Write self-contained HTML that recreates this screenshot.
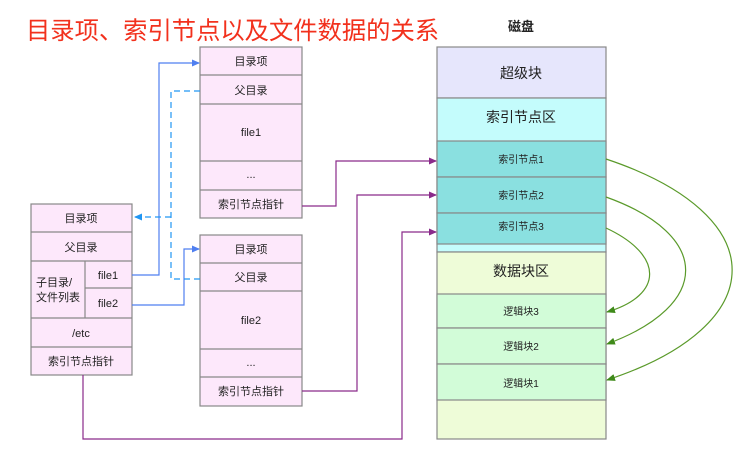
<!DOCTYPE html>
<html><head><meta charset="utf-8"><style>
body{margin:0;background:#fff;width:756px;height:458px;overflow:hidden}
svg text{font-family:"Liberation Sans","Noto Sans CJK SC",sans-serif;fill:#222}
</style></head><body>
<svg width="756" height="458" xmlns="http://www.w3.org/2000/svg">
<defs>
<marker id="ab" markerWidth="8" markerHeight="8" refX="7" refY="4" orient="auto" markerUnits="userSpaceOnUse"><path d="M0,0.5 L8,4 L0,7.5 Z" fill="#4f7ff0"/></marker>
<marker id="ad" markerWidth="8" markerHeight="8" refX="7" refY="4" orient="auto" markerUnits="userSpaceOnUse"><path d="M0,0.5 L8,4 L0,7.5 Z" fill="#2196f3"/></marker>
<marker id="ap" markerWidth="8" markerHeight="8" refX="7" refY="4" orient="auto" markerUnits="userSpaceOnUse"><path d="M0,0.5 L8,4 L0,7.5 Z" fill="#8a2a8a"/></marker>
<marker id="ag" markerWidth="9" markerHeight="8" refX="8" refY="4" orient="auto" markerUnits="userSpaceOnUse"><path d="M0,0.5 L9,4 L0,7.5 Z" fill="#3f8a1a"/></marker>
</defs>
<text x="26" y="39" font-size="24.3" style="fill:#f2311d">目录项、索引节点以及文件数据的关系</text>
<text x="521" y="31" font-size="13" text-anchor="middle" font-weight="bold">磁盘</text>
<g stroke="#888" stroke-width="1.2" fill="#fde8fb" font-size="11">
<rect x="31" y="204" width="101" height="171"/>
<line x1="31" y1="232" x2="132" y2="232"/><line x1="31" y1="261" x2="132" y2="261"/>
<line x1="85" y1="288" x2="132" y2="288"/><line x1="31" y1="318" x2="132" y2="318"/>
<line x1="31" y1="347" x2="132" y2="347"/><line x1="85" y1="261" x2="85" y2="318"/>
<rect x="200" y="47" width="102" height="171"/>
<line x1="200" y1="75" x2="302" y2="75"/><line x1="200" y1="104" x2="302" y2="104"/>
<line x1="200" y1="161" x2="302" y2="161"/><line x1="200" y1="190" x2="302" y2="190"/>
<rect x="200" y="235" width="102" height="171"/>
<line x1="200" y1="263" x2="302" y2="263"/><line x1="200" y1="291" x2="302" y2="291"/>
<line x1="200" y1="349" x2="302" y2="349"/><line x1="200" y1="377" x2="302" y2="377"/>
</g>
<g font-size="11" text-anchor="middle">
<text x="81" y="222">目录项</text><text x="81" y="251">父目录</text>
<text x="108" y="279">file1</text><text x="108" y="307">file2</text>
<text x="81" y="337">/etc</text><text x="81" y="365">索引节点指针</text>
<text x="251" y="65">目录项</text><text x="251" y="94">父目录</text><text x="251" y="136">file1</text>
<text x="251" y="178">...</text><text x="251" y="208">索引节点指针</text>
<text x="251" y="253">目录项</text><text x="251" y="281">父目录</text><text x="251" y="324">file2</text>
<text x="251" y="366">...</text><text x="251" y="395">索引节点指针</text>
</g>
<text x="36" y="286" font-size="11">子目录/</text><text x="36" y="301" font-size="11">文件列表</text>
<g stroke="#888" stroke-width="1.2">
<rect x="437" y="47" width="169" height="51" fill="#e6e6fc"/>
<rect x="437" y="98" width="169" height="154" fill="#c4fcfc"/>
<rect x="437" y="141" width="169" height="36" fill="#8ae0e0"/>
<rect x="437" y="177" width="169" height="36" fill="#8ae0e0"/>
<rect x="437" y="213" width="169" height="31" fill="#8ae0e0"/>
<rect x="437" y="252" width="169" height="187" fill="#eefcd8"/>
<rect x="437" y="294" width="169" height="34" fill="#d2fcd8"/>
<rect x="437" y="328" width="169" height="36" fill="#d2fcd8"/>
<rect x="437" y="364" width="169" height="36" fill="#d2fcd8"/>
</g>
<g text-anchor="middle">
<text x="521" y="78" font-size="14">超级块</text>
<text x="521" y="122" font-size="14">索引节点区</text>
<text x="521" y="163" font-size="10">索引节点1</text>
<text x="521" y="199" font-size="10">索引节点2</text>
<text x="521" y="230" font-size="10">索引节点3</text>
<text x="521" y="276" font-size="14">数据块区</text>
<text x="521" y="315" font-size="10">逻辑块3</text>
<text x="521" y="350" font-size="10">逻辑块2</text>
<text x="521" y="387" font-size="10">逻辑块1</text>
</g>
<g fill="none" stroke-width="1.2">
<path d="M132,275 H159 V63 H199" stroke="#4f7ff0" marker-end="url(#ab)"/>
<path d="M132,305 H184 V249 H199" stroke="#4f7ff0" marker-end="url(#ab)"/>
<path d="M200,91 H171 V279 H200" stroke="#2196f3" stroke-dasharray="6,4"/>
<path d="M171,217 H135" stroke="#2196f3" stroke-dasharray="6,4" marker-end="url(#ad)"/>
<path d="M302,206 H336 V161 H436" stroke="#8a2a8a" marker-end="url(#ap)"/>
<path d="M302,391 H357 V195 H436" stroke="#8a2a8a" marker-end="url(#ap)"/>
<path d="M83,375 V439 H402 V232 H436" stroke="#8a2a8a" marker-end="url(#ap)"/>
<path d="M606,159 C774,215 774,325 607,380" stroke="#5a9a2a" marker-end="url(#ag)"/>
<path d="M606,197 C712,235 712,305 607,344" stroke="#5a9a2a" marker-end="url(#ag)"/>
<path d="M606,228 C664,255 664,295 607,312" stroke="#5a9a2a" marker-end="url(#ag)"/>
</g>
</svg>
</body></html>
